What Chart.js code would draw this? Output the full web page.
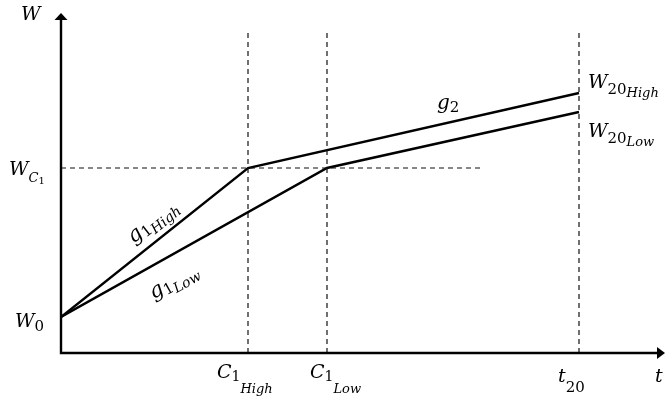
<!DOCTYPE html>
<html>
<head>
<meta charset="utf-8">
<script src="https://cdn.jsdelivr.net/npm/chart.js@4/dist/chart.umd.min.js"></script>
<style>
  html, body { margin: 0; padding: 0; background: #fff; }
  canvas { display: block; }
</style>
</head>
<body>
<canvas id="growth" width="665" height="401"></canvas>
<script>
// Times marked on the t axis: C1 (high rate), C1 (low rate), t20
const breakTimes = [187, 266, 518];
// Path with the high first-phase growth rate g1High, then g2
const highT = [0, 187, 518];
const highW = [36, 185, 260];
// Path with the low first-phase growth rate g1Low, then g2
const lowT = [0, 266, 518];
const lowW = [36, 185, 241];
// Threshold weight W_C1 and how far its guide runs along t
const thresholdW = 185;
const thresholdReach = 422;
// Upper end of the vertical guides
const guideTop = 321;
// Axis extents
const tMax = 600;
const wMax = 339;

const toPoints = (xs, ys) => xs.map((x, i) => ({ x, y: ys[i] }));

const solid = (data) => ({
  data, borderColor: '#000', borderWidth: 2.4, pointRadius: 0,
  showLine: true, tension: 0, fill: false
});
const dashed = (data) => ({
  data, borderColor: '#111', borderWidth: 1.2, borderDash: [5, 4],
  pointRadius: 0, showLine: true, tension: 0, fill: false
});

const datasets = [
  ...breakTimes.map(t => dashed([{ x: t, y: 0 }, { x: t, y: guideTop }])),
  dashed([{ x: 0, y: thresholdW }, { x: thresholdReach, y: thresholdW }]),
  solid(toPoints(highT, highW)),
  solid(toPoints(lowT, lowW))
];

const FONT = "'DejaVu Serif', serif";

// Draws a run of math-style text pieces: [text, size, italic, baseline shift]
function mathWidth(ctx, parts) {
  let w = 0;
  for (const [t, size, it] of parts) {
    ctx.font = (it ? 'italic ' : '') + size + 'px ' + FONT;
    w += ctx.measureText(t).width;
  }
  return w;
}
function drawMath(ctx, x, y, parts) {
  let cx = x;
  for (const [t, size, it, dy] of parts) {
    ctx.font = (it ? 'italic ' : '') + size + 'px ' + FONT;
    ctx.fillText(t, cx, y + dy);
    cx += ctx.measureText(t).width;
  }
}

const diagramPlugin = {
  id: 'diagram',
  afterDraw(chart) {
    const ctx = chart.ctx;
    const xs = chart.scales.x, ys = chart.scales.y;
    const X = v => xs.getPixelForValue(v);
    const Y = v => ys.getPixelForValue(v);
    const ox = X(0), oy = Y(0);

    ctx.save();
    ctx.fillStyle = '#000';
    ctx.strokeStyle = '#000';
    ctx.lineWidth = 2.4;

    // Axes with arrow heads
    ctx.beginPath();
    ctx.moveTo(ox, oy + 1);
    ctx.lineTo(ox, Y(wMax) + 5);
    ctx.moveTo(ox - 1.2, oy);
    ctx.lineTo(X(tMax) - 3, oy);
    ctx.stroke();
    ctx.beginPath();
    ctx.moveTo(ox, Y(wMax) - 1);
    ctx.lineTo(ox - 6.5, Y(wMax) + 6);
    ctx.lineTo(ox + 6.5, Y(wMax) + 6);
    ctx.closePath();
    ctx.fill();
    ctx.beginPath();
    ctx.moveTo(X(tMax) + 4, oy);
    ctx.lineTo(X(tMax) - 4, oy - 6);
    ctx.lineTo(X(tMax) - 4, oy + 6);
    ctx.closePath();
    ctx.fill();

    ctx.textBaseline = 'alphabetic';
    ctx.textAlign = 'left';

    // Axis titles
    drawMath(ctx, ox - 40, Y(wMax) + 6, [['W', 19, true, 0]]);
    drawMath(ctx, X(tMax) - 6, oy + 29, [['t', 19, true, 0]]);

    // Weight labels on the W axis
    drawMath(ctx, ox - 52, Y(thresholdW) + 7,
      [['W', 19, true, 0], ['C', 13, true, 7], ['1', 10, false, 9]]);
    drawMath(ctx, ox - 46, Y(highW[0]) + 10,
      [['W', 19, true, 0], ['0', 15, false, 4]]);

    // Time labels under the t axis
    drawMath(ctx, X(breakTimes[0]) - 31, oy + 25,
      [['C', 19, true, 0], ['1', 14, false, 3], ['High', 13, true, 15]]);
    drawMath(ctx, X(breakTimes[1]) - 17, oy + 25,
      [['C', 19, true, 0], ['1', 14, false, 3], ['Low', 13, true, 15]]);
    drawMath(ctx, X(breakTimes[2]) - 21, oy + 29,
      [['t', 19, true, 0], ['20', 15, false, 10]]);

    // End-point labels at t20
    drawMath(ctx, X(breakTimes[2]) + 9, Y(highW[2]) - 5,
      [['W', 19, true, 0], ['20', 15, false, 6], ['High', 13, true, 9]]);
    drawMath(ctx, X(breakTimes[2]) + 9, Y(lowW[2]) + 25,
      [['W', 19, true, 0], ['20', 15, false, 6], ['Low', 13, true, 9]]);

    // Second-phase rate label
    drawMath(ctx, 437, 109, [['g', 20, true, 0], ['2', 15, false, 3]]);

    // First-phase rate labels, rotated along their segments
    const rotLabel = (cx, cy, t0, w0, t1, w1, parts) => {
      const ang = Math.atan2(Y(w1) - Y(w0), X(t1) - X(t0));
      const w = mathWidth(ctx, parts);
      ctx.save();
      ctx.translate(cx, cy);
      ctx.rotate(ang);
      drawMath(ctx, -w / 2, 5, parts);
      ctx.restore();
    };
    rotLabel(153, 222, highT[0], highW[0], highT[1], highW[1],
      [['g', 21, true, 0], ['1', 15, false, 3], ['High', 14, true, 6]]);
    rotLabel(174, 282, lowT[0], lowW[0], lowT[1], lowW[1],
      [['g', 21, true, 0], ['1', 15, false, 3], ['Low', 14, true, 6]]);

    ctx.restore();
  }
};

new Chart(document.getElementById('growth'), {
  type: 'scatter',
  data: { datasets },
  options: {
    responsive: false,
    animation: false,
    layout: { padding: { left: 61, right: 4, top: 14, bottom: 48 } },
    plugins: { legend: { display: false }, tooltip: { enabled: false } },
    scales: {
      x: { type: 'linear', min: 0, max: tMax, display: false },
      y: { type: 'linear', min: 0, max: wMax, display: false }
    }
  },
  plugins: [diagramPlugin]
});
</script>
</body>
</html>
